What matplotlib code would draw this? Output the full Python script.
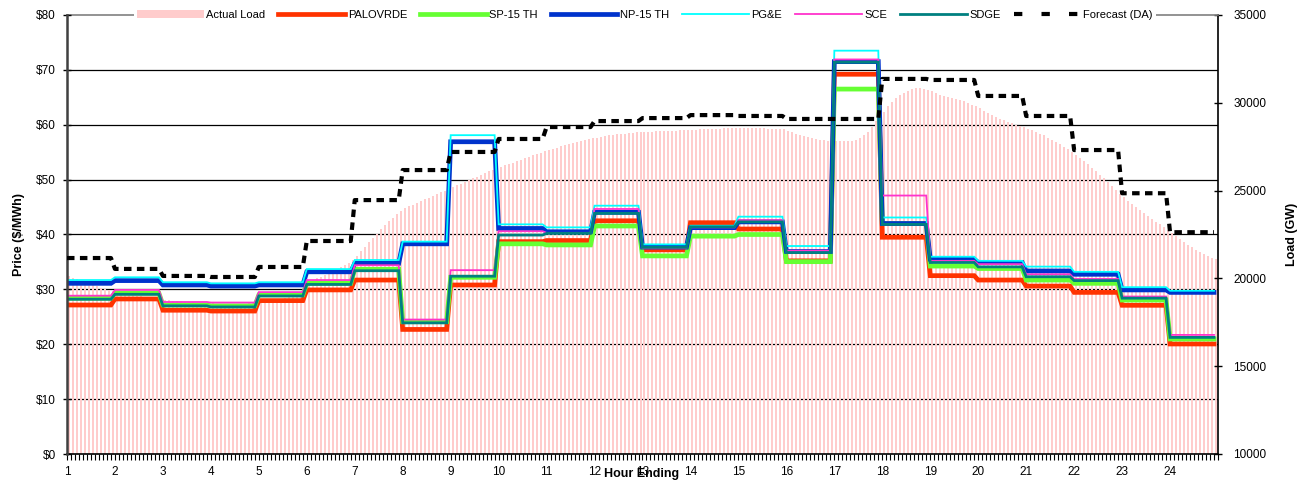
import numpy as np
import matplotlib.pyplot as plt
import matplotlib.transforms as mtransforms
from matplotlib.lines import Line2D
from matplotlib.patches import Patch
from matplotlib.ticker import MultipleLocator, FixedLocator, FuncFormatter

plt.rcParams['font.family'] = ['Liberation Sans', 'DejaVu Sans']

hours = list(range(1, 25))

# hourly prices ($/MWh), hour ending 1..24
palovrde = [27.15, 28.25, 26.2, 26.05, 27.95, 29.9, 31.7, 22.7, 30.8, 38.7, 38.9, 42.5,
            37.2, 42.15, 41.0, 35.2, 69.2, 39.5, 32.5, 31.7, 30.6, 29.45, 27.1, 20.05]
sp15 = [28.4, 29.3, 27.15, 27.0, 29.0, 31.1, 33.65, 24.1, 32.2, 38.3, 38.1, 41.55,
        36.1, 39.7, 40.0, 35.05, 66.5, 42.0, 34.25, 33.8, 31.7, 31.1, 28.05, 20.95]
np15 = [31.1, 31.6, 30.8, 30.6, 30.8, 33.2, 34.75, 38.3, 56.9, 41.1, 40.5, 44.05,
        37.7, 41.25, 42.3, 36.9, 71.5, 42.0, 35.5, 34.9, 33.35, 32.75, 29.9, 29.45]
pge = [31.7, 32.2, 31.3, 31.1, 31.3, 33.7, 35.35, 38.7, 58.1, 41.85, 41.3, 45.25,
       38.2, 41.6, 43.25, 37.9, 73.5, 43.1, 35.95, 35.2, 34.15, 33.2, 30.4, 29.75]
sce = [28.85, 29.9, 27.7, 27.6, 29.5, 31.7, 34.4, 24.5, 33.5, 40.6, 40.3, 44.65,
       37.5, 41.3, 42.6, 37.05, 71.9, 47.1, 35.2, 34.6, 32.75, 31.9, 28.7, 21.7]
sdge = [28.2, 29.1, 27.0, 26.8, 28.8, 30.9, 33.4, 23.9, 32.4, 39.9, 40.2, 43.85,
        37.65, 41.4, 42.3, 36.7, 71.4, 41.85, 34.9, 34.1, 32.3, 31.6, 28.4, 21.25]

# day-ahead load forecast (MW), hourly
forecast_da = [21160, 20540, 20140, 20080, 20650, 22130, 24460, 26170, 27200, 27940, 28620, 28960,
               29130, 29300, 29250, 29080, 29080, 31360, 31300, 30390, 29250, 27310, 24850, 22630]

# actual load (MW), 5-minute intervals, one row per hour
actual_load = [
    20150, 20050, 19950, 19850, 19780, 19700, 19620, 19550, 19480, 19420, 19360, 19300,
    19250, 19200, 19150, 19100, 19060, 19020, 18980, 18940, 18900, 18870, 18840, 18810,
    18780, 18760, 18740, 18720, 18700, 18680, 18660, 18640, 18620, 18610, 18600, 18590,
    18580, 18570, 18560, 18560, 18550, 18550, 18550, 18560, 18570, 18580, 18600, 18620,
    18650, 18680, 18720, 18760, 18800, 18850, 18900, 18960, 19020, 19080, 19150, 19220,
    19800, 19900, 20000, 20100, 20200, 20300, 20420, 20540, 20660, 20780, 20900, 21020,
    21300, 21550, 21800, 22050, 22300, 22550, 22800, 23050, 23250, 23450, 23650, 23850,
    24000, 24100, 24200, 24300, 24400, 24500, 24600, 24700, 24800, 24900, 25000, 25100,
    25200, 25300, 25400, 25500, 25600, 25700, 25800, 25900, 26000, 26100, 26200, 26280,
    26360, 26440, 26520, 26600, 26680, 26760, 26840, 26920, 27000, 27080, 27160, 27240,
    27310, 27380, 27450, 27520, 27590, 27650, 27710, 27770, 27830, 27880, 27930, 27980,
    28020, 28060, 28100, 28140, 28170, 28200, 28230, 28250, 28270, 28290, 28310, 28330,
    28340, 28350, 28360, 28370, 28380, 28390, 28400, 28410, 28420, 28430, 28440, 28450,
    28460, 28470, 28480, 28490, 28500, 28510, 28520, 28530, 28540, 28540, 28550, 28550,
    28560, 28560, 28560, 28560, 28550, 28550, 28540, 28530, 28520, 28510, 28500, 28480,
    28400, 28320, 28240, 28160, 28090, 28030, 27980, 27930, 27890, 27860, 27840, 27820,
    27810, 27810, 27820, 27830, 27850, 27880, 28000, 28150, 28350, 28620, 28950, 29300,
    29500, 29800, 30050, 30250, 30430, 30580, 30700, 30800, 30840, 30820, 30780, 30730,
    30650, 30560, 30470, 30400, 30340, 30280, 30220, 30160, 30080, 29990, 29890, 29790,
    29690, 29560, 29430, 29300, 29190, 29090, 29000, 28920, 28840, 28760, 28680, 28600,
    28520, 28440, 28350, 28250, 28140, 28020, 27900, 27780, 27650, 27510, 27360, 27200,
    27040, 26870, 26690, 26500, 26310, 26110, 25910, 25700, 25480, 25260, 25040, 24830,
    24620, 24420, 24240, 24060, 23890, 23720, 23560, 23400, 23240, 23080, 22920, 22760,
    22600, 22430, 22260, 22090, 21930, 21780, 21640, 21510, 21390, 21280, 21180, 21090,
]

series = [
    ('PALOVRDE', palovrde, '#ff3300', 3.4),
    ('SP-15 TH', sp15, '#66ff33', 3.4),
    ('NP-15 TH', np15, '#0033cc', 3.4),
    ('PG&E', pge, '#00ffff', 1.3),
    ('SCE', sce, '#ff33cc', 1.3),
    ('SDGE', sdge, '#008080', 2.0),
]

x5 = 1 + np.arange(288) / 12.0

fig = plt.figure(figsize=(13.1, 4.83), dpi=100)
ax_load = fig.add_axes([67 / 1310, 29 / 483, 1151 / 1310, 439 / 483])
ax_price = ax_load.twinx()

# gridlines (price scale) sit under the load bars
gtrans = mtransforms.blended_transform_factory(ax_load.transAxes, ax_price.transData)
for p in range(10, 80, 10):
    ax_load.add_line(Line2D([0, 1], [p, p], transform=gtrans, color='black', lw=0.9, zorder=0.5))

ax_load.bar(x5 + 0.5 / 12, actual_load, width=0.5 / 12, color='#ffcccc', linewidth=0,
            antialiased=False, zorder=1)

for name, vals, col, lw in series:
    ax_price.plot(x5, np.repeat(vals, 12), color=col, lw=lw, solid_joinstyle='miter')

ax_price.plot(x5, np.repeat(forecast_da, 12), transform=ax_load.transData,
              color='black', lw=3.0, dashes=(1.8, 1.3), zorder=3)

ax_load.set_xlim(1, 25)
ax_load.set_ylim(10000, 35000)
ax_price.set_ylim(0, 80)
ax_price.set_xlim(1, 25)

# axis sides: price on the left, load on the right
ax_load.yaxis.tick_right()
ax_load.yaxis.set_label_position('right')
ax_price.yaxis.tick_left()
ax_price.yaxis.set_label_position('left')

ax_price.yaxis.set_major_locator(MultipleLocator(10))
ax_price.yaxis.set_major_formatter(FuncFormatter(lambda v, pos: '$%d' % v))
ax_load.yaxis.set_major_locator(MultipleLocator(5000))

ax_load.xaxis.set_major_locator(FixedLocator(hours))
ax_load.xaxis.set_minor_locator(MultipleLocator(1 / 12))

ax_price.tick_params(axis='y', labelsize=8.5, direction='inout', length=6, width=1, pad=5)
ax_load.tick_params(axis='y', labelsize=8.5, direction='inout', length=6, width=1, pad=8)
ax_load.tick_params(axis='x', which='both', direction='out', length=4, width=0.8, labelsize=8.5, pad=4.5)

for a in (ax_load, ax_price):
    for s in a.spines.values():
        s.set_visible(False)
ax_price.spines['left'].set_visible(True)
ax_price.spines['left'].set_color('#404040')
ax_price.spines['left'].set_linewidth(1.8)
ax_load.spines['right'].set_visible(True)
ax_load.spines['right'].set_linewidth(1.2)
ax_load.spines['bottom'].set_visible(True)
ax_load.spines['bottom'].set_linewidth(1.2)
ax_load.spines['top'].set_visible(True)
ax_load.spines['top'].set_color('#808080')
ax_load.spines['top'].set_linewidth(1.2)

ax_price.set_ylabel('Price ($/MWh)', fontsize=9, fontweight='bold', labelpad=8)
ax_load.set_ylabel('Load (GW)', fontsize=9, fontweight='bold', labelpad=14)
fig.text(642 / 1310, 1 - 474 / 483, 'Hour Ending', fontsize=9, fontweight='bold',
         ha='center', va='center')

handles = [Patch(facecolor='#ffcccc', edgecolor='none')]
labels = ['Actual Load']
for name, vals, col, lw in series:
    handles.append(Line2D([], [], color=col, lw=lw))
    labels.append(name)
handles.append(Line2D([], [], color='black', lw=3.0, dashes=(2.0, 4.6)))
labels.append('Forecast (DA)')

leg = ax_price.legend(handles, labels, loc='center', bbox_to_anchor=(0.502, 1.0), ncol=8,
                      fontsize=8, frameon=True, framealpha=1, edgecolor='none',
                      fancybox=False, handlelength=6, handletextpad=0.25,
                      columnspacing=1.15, borderpad=0.3, handleheight=0.8)
leg.get_frame().set_facecolor('white')

fig.savefig('out.png', dpi=100)
